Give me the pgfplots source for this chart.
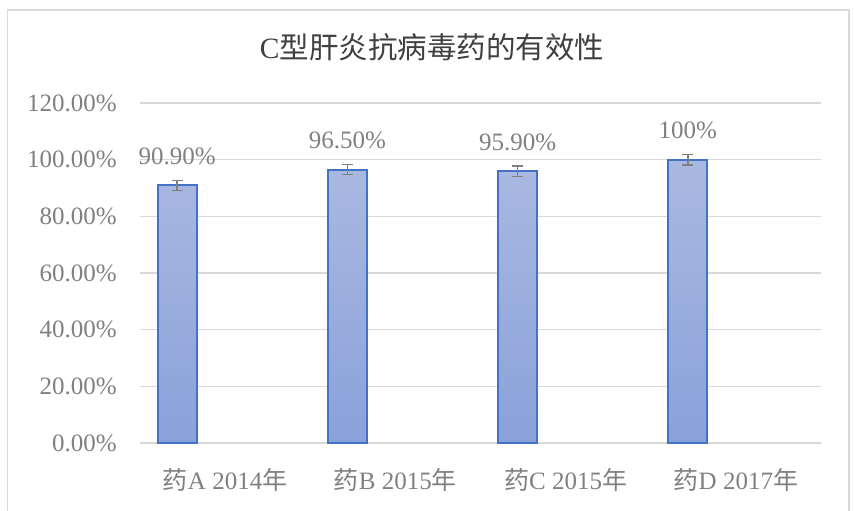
\documentclass[border=0pt]{standalone}
\usepackage{fontspec}
\setmainfont{Liberation Serif}
\newfontfamily\cjk{Noto Sans CJK SC}
\usepackage{pgfplots}
\pgfplotsset{compat=1.18}
\definecolor{txt}{HTML}{808080}
\definecolor{ttl}{HTML}{404040}
\definecolor{gridc}{HTML}{D9D9D9}
\definecolor{barline}{HTML}{4472C4}
\definecolor{bartop}{HTML}{AAB9E1}
\definecolor{barbot}{HTML}{8AA1DA}
\definecolor{errc}{HTML}{7F7F7F}
\begin{document}
\begin{tikzpicture}
\path[use as bounding box] (0pt,0pt) rectangle (854pt,511pt);
\draw[gridc, line width=1.5pt] (7.5pt,-5pt) -- (7.5pt,501pt) -- (849pt,501pt) -- (849pt,-5pt);
\node[font=\fontsize{29.5}{30}\selectfont, color=ttl] at (432pt,464pt) {C{\cjk 型肝炎抗病毒药的有效性}};
\begin{axis}[
  at={(140pt,68pt)}, anchor=origin, scale only axis,
  width=681pt, height=340pt,
  xmin=0, xmax=4, ymin=0, ymax=120,
  enlargelimits=false, clip=false,
  axis lines*=left, axis line style={draw=none},
  tick style={draw=none}, major tick length=0pt,
  ymajorgrids, xmajorgrids=false, grid style={gridc, line width=1.4pt},
  ytick={0,20,40,60,80,100,120},
  yticklabels={0.00\%,20.00\%,40.00\%,60.00\%,80.00\%,100.00\%,120.00\%},
  yticklabel style={font=\fontsize{25}{25}\selectfont, color=txt, inner sep=0pt, anchor=east, xshift=-23pt},
  xtick={0.5,1.5,2.5,3.5},
  xticklabels={{{\cjk 药}A 2014{\cjk 年}},{{\cjk 药}B 2015{\cjk 年}},{{\cjk 药}C 2015{\cjk 年}},{{\cjk 药}D 2017{\cjk 年}}},
  xticklabel style={font=\fontsize{25}{25}\selectfont, color=txt, inner sep=0pt, anchor=base, yshift=-47pt},
  ybar, bar width=39pt, bar shift=0pt,
]
\addplot[draw=barline, line width=2pt, top color=bartop, bottom color=barbot,
  error bars/.cd, y dir=both, y explicit,
  error bar style={errc, line width=1.6pt},
  error mark options={rotate=90, mark size=5.5pt, errc, line width=1.6pt}]
  coordinates {(0.218,90.9) +- (0,1.8) (1.218,96.5) +- (0,1.8) (2.218,95.9) +- (0,1.8) (3.218,100) +- (0,1.8)};
\addplot[draw=none, fill=none, point meta=explicit symbolic,
  nodes near coords, nodes near coords style={font=\fontsize{25}{25}\selectfont, color=txt, anchor=base, inner sep=0pt, yshift=21pt}]
  coordinates {(0.218,90.9)[90.90\%] (1.218,96.5)[96.50\%] (2.218,95.9)[95.90\%] (3.218,100)[100\%]};
\end{axis}
\end{tikzpicture}
\end{document}
